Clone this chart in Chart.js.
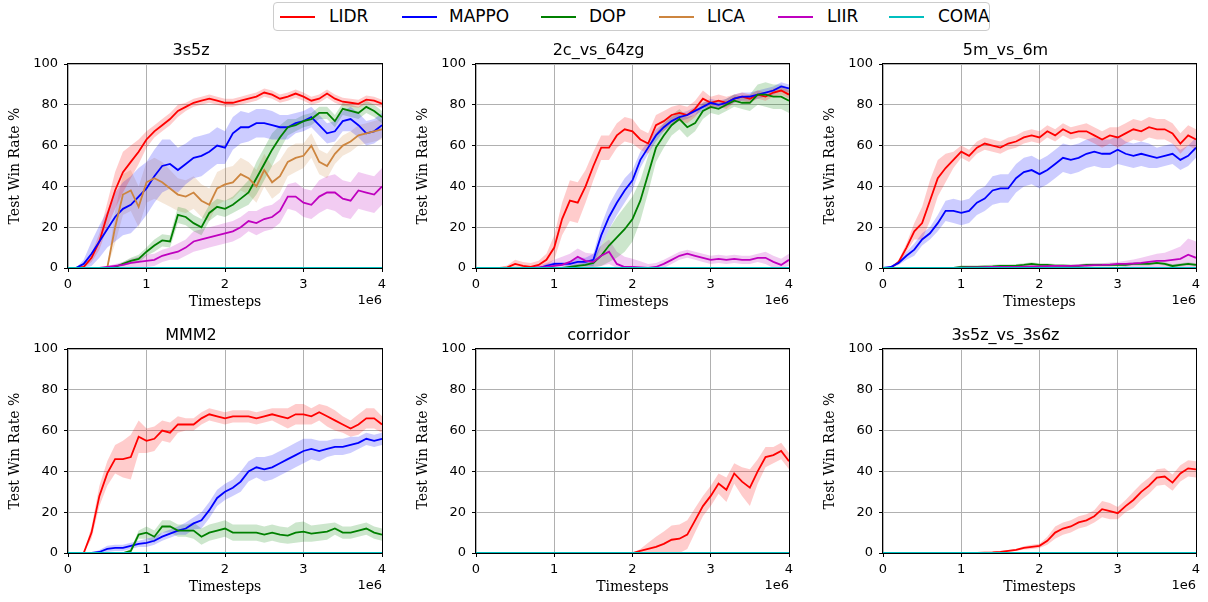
<!DOCTYPE html>
<html>
<head>
<meta charset="utf-8">
<script src="https://cdn.jsdelivr.net/npm/chart.js@4.4.0/dist/chart.umd.min.js"></script>
<style>
  body { margin: 0; background: #fff; width: 1208px; height: 602px; position: relative; overflow: hidden; font-family: "DejaVu Sans"; }
  canvas { position: absolute; }
  #legend { position: absolute; left: 273px; top: 2px; width: 717px; height: 29px; border: 1px solid #cccccc; border-radius: 4px; box-sizing: border-box; background: #fff; }
  #legend .sw { position: absolute; top: 13px; width: 35px; height: 2px; }
  #legend .lb { position: absolute; top: 0; line-height: 27px; font-size: 17px; color: #000; white-space: nowrap; }
</style>
</head>
<body>
<div id="legend"></div>
<canvas id="c0"></canvas>
<canvas id="c1"></canvas>
<canvas id="c2"></canvas>
<canvas id="c3"></canvas>
<canvas id="c4"></canvas>
<canvas id="c5"></canvas>
<script>
// timesteps (x 1e6)
const steps = [0,0.1,0.2,0.3,0.4,0.5,0.6,0.7,0.8,0.9,1.0,1.1,1.2,1.3,1.4,1.5,1.6,1.7,1.8,1.9,2.0,
               2.1,2.2,2.3,2.4,2.5,2.6,2.7,2.8,2.9,3.0,3.1,3.2,3.3,3.4,3.5,3.6,3.7,3.8,3.9,4.0];
const flat0 = [0,0,0,0,0,0,0,0,0,0,0,0,0,0,0,0,0,0,0,0,0,0,0,0,0,0,0,0,0,0,0,0,0,0,0,0,0,0,0,0,0];

const algos = ['LIDR', 'MAPPO', 'DOP', 'LICA', 'LIIR', 'COMA'];
const mapNames = ['3s5z', '2c_vs_64zg', '5m_vs_6m', 'MMM2', 'corridor', '3s5z_vs_3s6z'];
const yTicks = [0, 20, 40, 60, 80, 100];
const xTicks = [0, 1, 2, 3, 4];

// ---- 3s5z ----
const a_LIDR = [0,0,0.5,5,13,26,38,47,52,57,63,67,70,73,77,79,81,82,83,82,81,81,82,83,84,86,85,83,84,85.5,84,82,83,85.5,83,81.5,81,80.5,82.5,82,80.5];
const a_LIDR_sd = [0,0,1,2,4,6,9,10,8,6,4,3,3,3,3,2,2,2,2,2,2,2,2,2,2,2,2,2,2,2,2,2,2,2,2,2,2,2,2,2,2];
const a_MAPPO = [0,0,2,7,13,19,25,29,31,35,39,45,50,51,48,51,54,55,57,60,59,66,69,69,71,71,70,69,69,71,72,74,70,66,67,72,73,70,66,67,70];
const a_MAPPO_sd = [0,0,2,6,8,9,12,13,14,14,13,13,13,12,11,10,10,10,9,9,8,8,8,7,7,7,7,6,6,5,5,5,5,5,5,5,6,6,6,6,6];
const a_DOP = [0,0,0,0,0,0,0.5,2,3.5,4.5,8,11,13.5,13,26,25,22,20,27,30,29,31,34,37,44,51,58,64,69,70,72,73,76,76,72,78,77,76,79,77,74];
const a_DOP_sd = [0,0,0,0,0,0,0.5,1,1.5,2,2,3,3,3,4,4,4,4,4,4,4,4,5,6,8,8,8,6,4,3,3,3,3,3,3,3,3,3,3,3,3];
const a_LICA = [0,0,0,0,0,0,20,36,38,30,42,44,42,39,36,35,37,33,31,39,41,42,46,44,40,48,42,45,52,54,55,60,52,50,56,60,62,65,66,67,68];
const a_LICA_sd = [0,0,0,0,0,0,8,10,10,10,10,10,10,9,8,8,8,8,8,8,8,8,8,8,8,8,8,8,7,7,6,6,6,6,5,5,5,5,5,5,5];
const a_LIIR = [0,0,0,0,0,0.5,1,1.5,2.5,3,3.5,4,6,7,8,10,13,14,15,16,17,18,20,23,22,24,25,28,35,35,32,31,35,37,37,34,33,38,37,36,40];
const a_LIIR_sd = [0,0,0,0,0,0.5,1,1.5,2,2.5,3,3,3,3,4,4,5,5,5,5,5,5,5,5,6,6,6,6,6,7,7,7,8,8,9,9,9,9,9,9,9];

// ---- 2c_vs_64zg ----
const b_LIDR = [0,0,0,0,0.3,2,1,0.5,1.5,4,10,24,33,32,40,50,59,59,65,68,67,63,61,70,72,75,76,75,78,83,81,82,81,83,84,83,85,84,86,87,85];
const b_LIDR_sd = [0,0,0,0,1,2,2,2,2,3,6,8,10,10,8,7,6,6,6,6,6,5,5,5,5,4,4,4,4,4,3,3,3,2,2,2,2,2,2,2,2];
const b_MAPPO = [0,0,0,0,0,0,0,0,0,1,2,2,2,3,3,4,16,25,32,38,43,53,59,65,69,72,74,75,77,79,81,80,81,83,84,84,85,86,87,89,88];
const b_MAPPO_sd = [0,0,0,0,0,0,0,0,0,1,1,1,1,2,2,3,5,6,6,6,5,4,3,3,2,2,2,2,2,2,2,2,2,2,2,2,2,2,2,2,2];
const b_DOP = [0,0,0,0,0,0,0,0,0,0,0,0,0.5,1,1.5,2.5,6,11,15,19,24,33,46,59,65,70,73,69,71,77,79,78,80,82,81,81,85,85,84,84,82];
const b_DOP_sd = [0,0,0,0,0,0,0,0,0,0,0,0,0.5,1,1,2,5,8,10,11,11,10,9,7,6,5,5,5,4,4,3,3,3,3,3,4,5,6,6,6,6];
const b_LIIR = [0,0,0,0,0,0,0,0,0.3,0.5,1,1.5,3,5.5,3.5,3,6,8,2,0.5,0.5,0.3,0,0.5,2,4,6,7,6,5,4,4.5,4,4.5,4,4,5,5,3,1.5,4];
const b_LIIR_sd = [0,0,0,0,0,0,0,0,1,2,3,4,4,4,4,4,5,6,6,5,4,3,2,2,2,2,2,2,2,2,2,2,2,2,2,2,2,3,3,3,3];

// ---- 5m_vs_6m ----
const c_LIDR = [0,0,3,10,18,22,33,44,49,53,57,55,59,61,60,59,61,62,64,65,64,67,65,68,66,67,67,65,63,65,64,66,68,67,69,68,68,66,61,65,63];
const c_LIDR_sd = [0,0,1,2,4,8,10,9,7,4,3,3,3,3,3,3,3,3,3,3,3,3,3,3,3,3,4,4,4,4,5,5,5,5,5,5,5,5,5,5,5];
const c_MAPPO = [0,0.5,2.5,6,9,14,17,22,28,28,27,28,32,34,38,39,39,44,47,48,46,48,51,54,53,54,56,57,56,56,58,56,55,56,55,54,55,56,53,55,59];
const c_MAPPO_sd = [0,0.5,1,2,3,3,3,4,5,6,6,6,6,6,7,7,7,7,7,7,7,7,7,7,7,7,7,7,7,7,7,6,6,6,6,5,5,5,5,5,5];
const c_DOP = [0,0,0,0,0,0,0,0,0,0,0.5,0.5,0.5,0.7,0.8,1,1,1.2,1.5,2,1.5,1.5,1.2,1.2,1,1,1.5,1.5,1.5,1.5,1.5,1.5,2,2,2,2.5,2,1,1.5,2,1.5];
const c_DOP_sd = [0,0,0,0,0,0,0,0,0,0,0.8,0.8,0.8,0.8,0.8,0.8,0.8,0.8,0.8,0.8,0.8,0.8,0.8,0.8,0.8,0.8,0.8,0.8,0.8,0.8,0.8,0.8,0.8,0.8,0.8,0.8,0.8,0.8,0.8,0.8,0.8];
const c_LIIR = [0,0,0,0,0,0,0,0,0,0,0.2,0.3,0.3,0.4,0.5,0.5,0.5,0.6,0.7,0.8,0.8,0.9,1,1,1,1.2,1.2,1.4,1.5,1.7,2,2,2.2,2.5,3,3.5,3.5,4,4.5,6.5,5];
const c_LIIR_sd = [0,0,0,0,0,0,0,0,0,0,0.5,0.5,0.5,0.5,0.5,0.5,0.5,0.5,0.5,0.5,0.5,0.5,0.5,0.5,0.5,0.7,0.7,0.8,0.8,1,1,1.5,2,2.5,3,3.5,4,5,6,8,8];

// ---- MMM2 ----
const d_LIDR = [0,0,0,10,28,39,46,46,47,57,55,56,60,59,63,63,63,66,68,67,66,67,67,67,66,67,68,67,66,68,68,67,69,67,65,63,61,63,66,66,63];
const d_LIDR_sd = [0,0,0,3,5,6,7,9,11,8,6,6,5,5,4,3,3,3,3,3,3,3,3,3,3,3,3,4,5,5,5,4,4,5,5,4,4,5,5,5,4];
const d_MAPPO = [0,0,0,0,0.5,2,2.5,2.5,3.5,4.5,5,6,8,9.5,11,12,14.5,16,21,27,30,32,35,40,42,41,42,44,46,48,50,51,50,51,52,52,53,54,56,55,56];
const d_MAPPO_sd = [0,0,0,0,1,1.5,1.5,1.5,1.5,1.5,2,2,2,2,2,3,3,4,4,4,4,4,5,5,5,6,6,6,6,6,6,5,5,4,4,4,4,3,3,3,3];
const d_DOP = [0,0,0,0,0,0,0,0,1,9,10,8,13,13,11,11,11,8,10,11,12,10,10,10,10,9,10,9,8.5,10,10.5,9.5,10,10.5,12,10,10,11,12,10,9];
const d_DOP_sd = [0,0,0,0,0,0,0,0,1,2,3,3,3,3,3,3,4,4,4,4,4,4,4,4,4,4,4,4,4,5,5,4,4,4,3,3,3,3,3,3,3];

// ---- corridor ----
const e_LIDR = [0,0,0,0,0,0,0,0,0,0,0,0,0,0,0,0,0,0,0,0,0,1,2,3,4.5,6.5,7,9,16,23,28,34,31,39,35,32,40,47,48,50,45];
const e_LIDR_sd = [0,0,0,0,0,0,0,0,0,0,0,0,0,0,0,0,0,0,0,0,0,1,3,5,6,7,7,7,6,5,5,5,6,5,7,9,6,5,4,4,4];

// ---- 3s5z_vs_3s6z ----
const f_LIDR = [0,0,0,0,0,0,0,0,0,0,0,0,0,0.2,0.3,0.5,1,1.5,2.5,3,3.5,6,10,12,13,15,16,18,21.5,20.5,19.5,23,26,30,33,37,37.5,34.5,39,41.5,41];
const f_LIDR_sd = [0,0,0,0,0,0,0,0,0,0,0,0,0,0.2,0.3,0.5,0.5,0.5,0.8,1,1,2,3,3,3,3,3,3,4,4,3,3,4,4,4,4,4,4,4,4,4];

const lineColors = { LIDR: '#ff0000', MAPPO: '#0000ff', DOP: '#008000', LICA: '#cd853f', LIIR: '#bf00bf', COMA: '#00bfbf' };
const bandColors = { LIDR: 'rgba(255,0,0,0.2)', MAPPO: 'rgba(0,0,255,0.2)', DOP: 'rgba(0,128,0,0.2)',
                     LICA: 'rgba(205,133,63,0.2)', LIIR: 'rgba(191,0,191,0.2)', COMA: 'rgba(0,191,191,0.2)' };

// [mean, spread] per algo, null spread = flat line with no band
const panelSeries = [
  { LIDR: [a_LIDR, a_LIDR_sd], MAPPO: [a_MAPPO, a_MAPPO_sd], DOP: [a_DOP, a_DOP_sd], LICA: [a_LICA, a_LICA_sd], LIIR: [a_LIIR, a_LIIR_sd], COMA: [flat0, null] },
  { LIDR: [b_LIDR, b_LIDR_sd], MAPPO: [b_MAPPO, b_MAPPO_sd], DOP: [b_DOP, b_DOP_sd], LICA: [flat0, null], LIIR: [b_LIIR, b_LIIR_sd], COMA: [flat0, null] },
  { LIDR: [c_LIDR, c_LIDR_sd], MAPPO: [c_MAPPO, c_MAPPO_sd], DOP: [c_DOP, c_DOP_sd], LICA: [flat0, null], LIIR: [c_LIIR, c_LIIR_sd], COMA: [flat0, null] },
  { LIDR: [d_LIDR, d_LIDR_sd], MAPPO: [d_MAPPO, d_MAPPO_sd], DOP: [d_DOP, d_DOP_sd], LICA: [flat0, null], LIIR: [flat0, null], COMA: [flat0, null] },
  { LIDR: [e_LIDR, e_LIDR_sd], MAPPO: [flat0, null], DOP: [flat0, null], LICA: [flat0, null], LIIR: [flat0, null], COMA: [flat0, null] },
  { LIDR: [f_LIDR, f_LIDR_sd], MAPPO: [flat0, null], DOP: [flat0, null], LICA: [flat0, null], LIIR: [flat0, null], COMA: [flat0, null] }
];

// canvas boxes on the page
const boxes = [
  { left: 0, top: 36, w: 394, h: 281 },
  { left: 408, top: 36, w: 393, h: 281 },
  { left: 815, top: 36, w: 393, h: 281 },
  { left: 0, top: 321, w: 394, h: 281 },
  { left: 408, top: 321, w: 393, h: 281 },
  { left: 815, top: 321, w: 393, h: 281 }
];

// legend (html)
const legendPos = [[6, 55], [128, 175], [267, 315], [385, 433], [504, 553], [615, 664]];
const legend = document.getElementById('legend');
algos.forEach((name, i) => {
  const sw = document.createElement('div');
  sw.className = 'sw';
  sw.style.left = legendPos[i][0] + 'px';
  sw.style.background = lineColors[name];
  legend.appendChild(sw);
  const lb = document.createElement('div');
  lb.className = 'lb';
  lb.style.left = legendPos[i][1] + 'px';
  lb.textContent = name;
  legend.appendChild(lb);
});

// box around plot area + "1e6" offset label
const framePlugin = {
  id: 'frame',
  afterDraw(chart) {
    const { ctx, chartArea: a } = chart;
    ctx.save();
    ctx.strokeStyle = '#000';
    ctx.lineWidth = 1;
    ctx.strokeRect(a.left - 0.5, a.top - 0.5, a.right - a.left + 1, a.bottom - a.top + 1);
    ctx.fillStyle = '#000';
    ctx.font = '13px "DejaVu Sans"';
    ctx.textAlign = 'right';
    ctx.textBaseline = 'middle';
    ctx.fillText('1e6', a.right, a.bottom + 33);
    ctx.restore();
  }
};

function buildDatasets(series) {
  const ds = [];
  algos.forEach((name, i) => {
    const [mean, sd] = series[name];
    if (sd) {
      const hiIdx = ds.length;
      ds.push({
        label: name + ' hi',
        data: steps.map((x, k) => ({ x, y: mean[k] + sd[k] })),
        borderColor: 'transparent', borderWidth: 0, pointRadius: 0,
        backgroundColor: bandColors[name], fill: hiIdx + 1, order: 100
      });
      ds.push({
        label: name + ' lo',
        data: steps.map((x, k) => ({ x, y: Math.max(0, mean[k] - sd[k]) })),
        borderColor: 'transparent', borderWidth: 0, pointRadius: 0, fill: false, order: 100
      });
    }
    ds.push({
      label: name,
      data: steps.map((x, k) => ({ x, y: mean[k] })),
      borderColor: lineColors[name], borderWidth: 1.8, pointRadius: 0, fill: false,
      order: 50 - i
    });
  });
  return ds;
}

const tickFont = { family: 'DejaVu Sans', size: 13 };
const labelFont = { family: 'DejaVu Serif', size: 14, lineHeight: 1.2 };

mapNames.forEach((title, p) => {
  const cv = document.getElementById('c' + p);
  const b = boxes[p];
  cv.width = b.w; cv.height = b.h;
  cv.style.left = b.left + 'px'; cv.style.top = b.top + 'px';
  cv.style.width = b.w + 'px'; cv.style.height = b.h + 'px';

  new Chart(cv, {
    type: 'line',
    data: { datasets: buildDatasets(panelSeries[p]) },
    options: {
      responsive: false,
      animation: false,
      devicePixelRatio: 1,
      layout: { padding: { left: 0, right: 12, top: 0, bottom: 0 } },
      plugins: {
        legend: { display: false },
        tooltip: { enabled: false },
        title: {
          display: true, text: title, color: '#000',
          font: { family: 'DejaVu Sans', size: 16, weight: 'normal', lineHeight: '16px' },
          padding: { top: 7, bottom: 5 }
        }
      },
      scales: {
        x: {
          type: 'linear', min: 0, max: 4,
          afterFit: s => { s.height = 49; },
          afterBuildTicks: s => { s.ticks = xTicks.map(v => ({ value: v })); },
          ticks: { font: tickFont, color: '#000', padding: 5, maxRotation: 0, autoSkip: false },
          grid: { color: '#b0b0b0', tickColor: '#000', tickLength: 4, lineWidth: 1 },
          border: { display: false },
          title: { display: true, text: 'Timesteps', color: '#000', font: labelFont, padding: { top: 0, bottom: 6 } }
        },
        y: {
          min: 0, max: 100,
          afterFit: s => { s.width = 68; },
          afterBuildTicks: s => { s.ticks = yTicks.map(v => ({ value: v })); },
          ticks: { font: tickFont, color: '#000', padding: 6 },
          grid: { color: '#b0b0b0', tickColor: '#000', tickLength: 4, lineWidth: 1 },
          border: { display: false },
          title: { display: true, text: 'Test Win Rate %', color: '#000', font: labelFont, padding: { top: 7, bottom: 0 } }
        }
      }
    },
    plugins: [framePlugin]
  });
});
</script>
</body>
</html>
